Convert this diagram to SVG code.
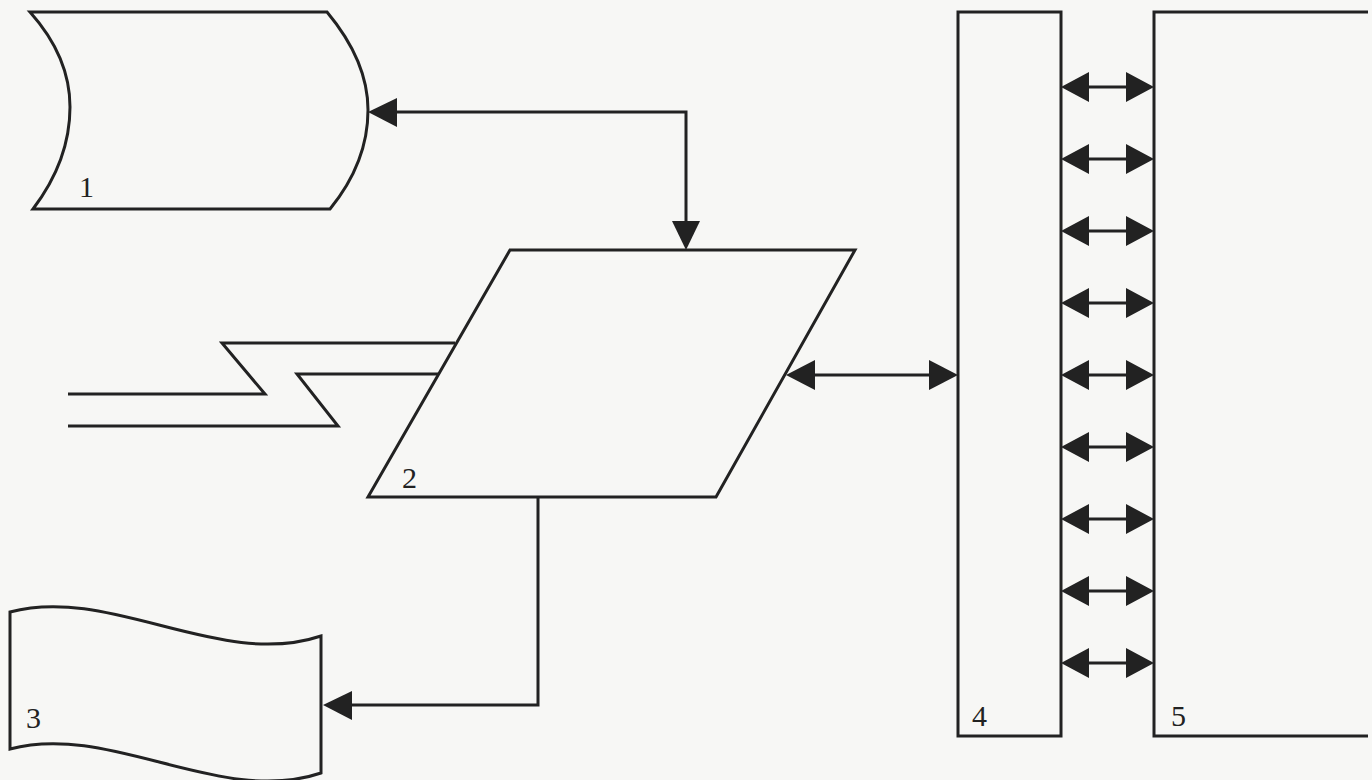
<svg xmlns="http://www.w3.org/2000/svg" width="1372" height="780" viewBox="0 0 1372 780">
<defs>
<style>
.s{fill:none;stroke:#222;stroke-width:3;stroke-linejoin:miter}
.c{fill:none;stroke:#222;stroke-width:3}
.t{font-family:"Liberation Serif",serif;font-size:30px;fill:#222}
.h{fill:#222}
</style>
</defs>
<rect width="1372" height="780" fill="#f7f7f5"/>
<g id="node1">
<path class="s" d="M30,12 L327,12 C352,42 368,75 368,110 C368,148 352,182 330,209 L33,209 C55,180 70,145 70,107 C70,70 55,40 30,12 Z"/>
<text class="t" x="79" y="197">1</text>
</g>
<g id="node2">
<path class="s" d="M510,250 L855,250 L716,497 L368,497 Z"/>
<text class="t" x="402" y="488">2</text>
</g>
<g id="node3">
<path class="s" d="M10,612 C110,585 220,670 321,636 L321,773 C220,807 110,722 10,749 Z"/>
<text class="t" x="26" y="728">3</text>
</g>
<g id="node4">
<rect class="s" x="958" y="12" width="103" height="724"/>
<text class="t" x="972" y="726">4</text>
</g>
<g id="node5">
<path class="s" d="M1368,12 L1154,12 L1154,736 L1368,736"/>
<text class="t" x="1171" y="726">5</text>
</g>
<g id="comm">
<path class="s" d="M68,394 L265,394 L222,343 L455,343"/>
<path class="s" d="M68,426 L338,426 L297,374 L438,374"/>
</g>
<g id="connectors">
<path class="c" d="M390,112 L686,112 L686,230"/>
<path class="h" d="M368,112 L397,98 L397,127 Z"/>
<path class="h" d="M686,250 L672,221 L700,221 Z"/>
<path class="c" d="M538,497 L538,705 L345,705"/>
<path class="h" d="M323,705 L352,691 L352,720 Z"/>
<path class="c" d="M805,375 L940,375"/>
<path class="h" d="M786,375 L815,360 L815,390 Z"/>
<path class="h" d="M958,375 L929,360 L929,390 Z"/>
<g id="bus">
<path class="c" d="M1080,87 H1136 M1080,159 H1136 M1080,231 H1136 M1080,303 H1136 M1080,375 H1136 M1080,447 H1136 M1080,519 H1136 M1080,591 H1136 M1080,663 H1136"/>
<path class="h" d="M1061,87 l28,-15 v30 Z M1154,87 l-28,-15 v30 Z"/>
<path class="h" d="M1061,159 l28,-15 v30 Z M1154,159 l-28,-15 v30 Z"/>
<path class="h" d="M1061,231 l28,-15 v30 Z M1154,231 l-28,-15 v30 Z"/>
<path class="h" d="M1061,303 l28,-15 v30 Z M1154,303 l-28,-15 v30 Z"/>
<path class="h" d="M1061,375 l28,-15 v30 Z M1154,375 l-28,-15 v30 Z"/>
<path class="h" d="M1061,447 l28,-15 v30 Z M1154,447 l-28,-15 v30 Z"/>
<path class="h" d="M1061,519 l28,-15 v30 Z M1154,519 l-28,-15 v30 Z"/>
<path class="h" d="M1061,591 l28,-15 v30 Z M1154,591 l-28,-15 v30 Z"/>
<path class="h" d="M1061,663 l28,-15 v30 Z M1154,663 l-28,-15 v30 Z"/>
</g>
</g>
</svg>
